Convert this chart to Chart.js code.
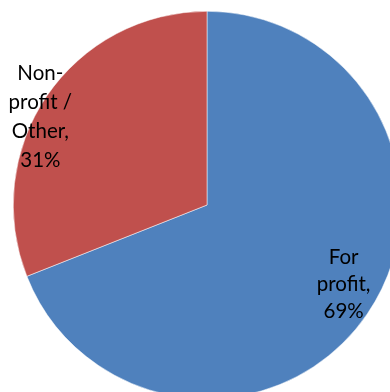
<!DOCTYPE html>
<html>
<head>
<meta charset="utf-8">
<script src="https://cdn.jsdelivr.net/npm/chart.js@4"></script>
<style>
  html, body { margin: 0; padding: 0; background: #fff; overflow: hidden; width: 390px; height: 392px; }
  #wrap { position: absolute; left: 0; top: 0; width: 414px; height: 410px; }
</style>
</head>
<body>
<div id="wrap"><canvas id="pie"></canvas></div>
<script>
// data
const categories = ['For profit', 'Non-profit / Other'];
const shares = [69, 31];
const labelLines = [['For', 'profit,', '69%'], ['Non-', 'profit /', 'Other,', '31%']];
const colors = ['#4F81BD', '#C0504D'];

// label anchors, as fraction of radius from the centre
const labelPos = [[0.705, 0.41], [-0.86, -0.455]];

const pieLabels = {
  id: 'pieLabels',
  afterDatasetsDraw(chart) {
    const ctx = chart.ctx;
    const arcs = chart.getDatasetMeta(0).data;
    ctx.save();
    ctx.font = '20.5px Lato, "Open Sans", sans-serif';
    ctx.fillStyle = '#000';
    ctx.textAlign = 'center';
    ctx.textBaseline = 'middle';
    arcs.forEach((arc, i) => {
      const r = arc.outerRadius;
      const cx = arc.x + labelPos[i][0] * r;
      const cy = arc.y + labelPos[i][1] * r;
      const lines = labelLines[i];
      const lh = i === 0 ? 27 : 29;
      lines.forEach((t, j) => {
        ctx.fillText(t, cx, cy + (j - (lines.length - 1) / 2) * lh);
      });
    });
    ctx.restore();
  }
};

const myPie = new Chart(document.getElementById('pie'), {
  type: 'pie',
  data: {
    labels: categories,
    datasets: [{
      data: shares,
      backgroundColor: colors,
      borderColor: '#ffffff',
      borderWidth: 0.5
    }]
  },
  options: {
    responsive: true,
    maintainAspectRatio: false,
    animation: false,
    layout: { padding: { left: 13, top: 11, right: 13, bottom: 11 } },
    plugins: {
      legend: { display: false },
      tooltip: { enabled: false }
    }
  },
  plugins: [pieLabels]
});
</script>
</body>
</html>
